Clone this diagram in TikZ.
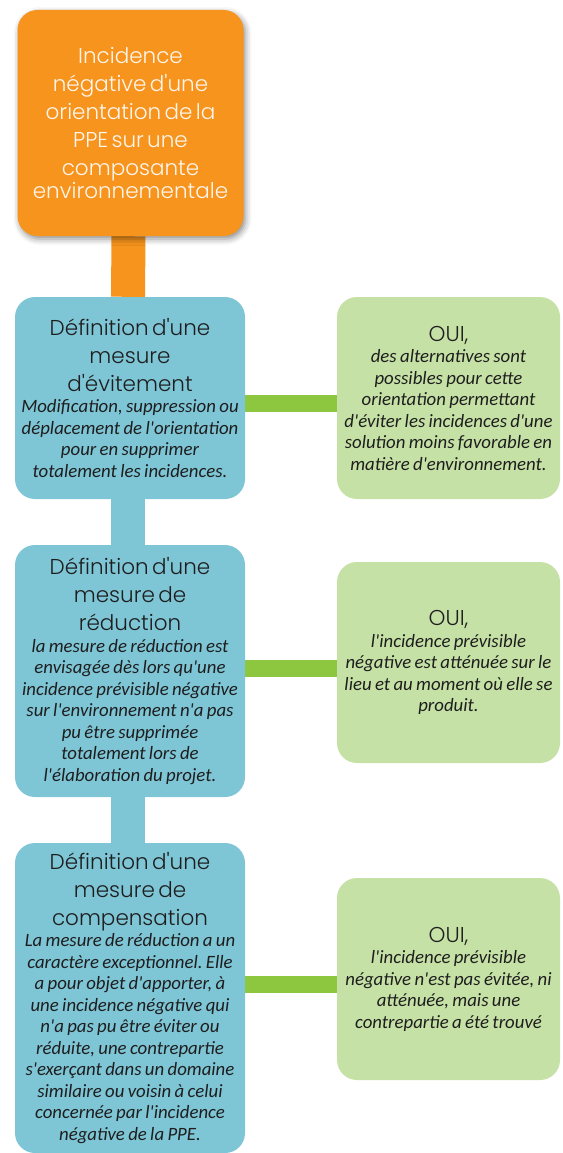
\documentclass[tikz,border=0pt]{standalone}
\usepackage{fontspec}
\usetikzlibrary{shadows.blur}
\newfontfamily\headfont{Poppins Light}
\newfontfamily\bodyfont{Carlito}
\definecolor{peche}{RGB}{247,148,29}
\definecolor{ciel}{RGB}{126,197,214}
\definecolor{pomme}{RGB}{198,225,166}
\definecolor{herbe}{RGB}{141,198,63}
\definecolor{encre}{RGB}{30,30,30}
\newcommand*{\bwd }{230pt}
\newcommand*{\gwd }{223pt}
\newcommand*{\twd }{34pt}
\newcommand*{\lwd }{17pt}
\newcommand*{\hsz }{\headfont\fontsize{21.5}{28}\selectfont}
\newcommand*{\isz }{\bodyfont\itshape\fontsize{18.8}{21.5}\selectfont}
\pgfdeclarelayer{background}
\pgfsetlayers{background,main}
\frenchspacing

\begin{document}
\begin{tikzpicture}[x=1pt,y=-1pt,
    box/.style    = {rounded corners=20pt, inner sep=0pt, align=center, text=encre},
    impact/.style = {box, fill=peche, text=white!92!peche, text width=\bwd-4pt, minimum height=226pt,
                     blur shadow={shadow xshift=2pt, shadow yshift=-3pt, shadow blur radius=6pt, shadow opacity=45}},
    mesure/.style = {box, fill=ciel, text width=\bwd},
    oui/.style    = {box, fill=pomme, text width=\gwd},
    tronc/.style  = {line width=\twd},
    lien/.style   = {line width=\lwd, herbe}]
    \useasboundingbox (0,0) rectangle (562,1153);

    \node [impact] (impact) at (130.5,123)
        {\hsz Incidence\\négative d'une\\orientation de la\\PPE sur une\\composante\\environnementale};

    \node [mesure, minimum height=202pt] (evite) at (130,398)
        {{\hsz Définition d'une\\mesure\\d'évitement\par}
         {\isz Modification, suppression ou\\déplacement de l'orientation\\pour en supprimer\\totalement les incidences.\par}};
    \node [mesure, minimum height=252pt] (reduit) at (130,671)
        {{\hsz Définition d'une\\mesure de\\réduction\par}
         {\isz la mesure de réduction est\\envisagée dès lors qu'une\\incidence prévisible négative\\sur l'environnement n'a pas\\pu être supprimée\\totalement lors de\\l'élaboration du projet.\par}};
    \node [mesure, minimum height=310pt] (compense) at (130,998)
        {{\hsz Définition d'une\\mesure de\\compensation\par}
         {\isz La mesure de réduction a un\\caractère exceptionnel. Elle\\a pour objet d'apporter, à\\une incidence négative qui\\n'a pas pu être éviter ou\\réduite, une contrepartie\\s'exerçant dans un domaine\\similaire ou voisin à celui\\concernée par l'incidence\\négative de la PPE.\par}};

    \node [oui, minimum height=202pt] (oui1) at (448.5,398)
        {{\hsz OUI,\par}
         {\isz des alternatives sont\\possibles pour cette\\orientation permettant\\d'éviter les incidences d'une\\solution moins favorable en\\matière d'environnement.\par}};
    \node [oui, minimum height=201pt] (oui2) at (448.5,662.5)
        {{\hsz OUI,\par}
         {\isz l'incidence prévisible\\négative est atténuée sur le\\lieu et au moment où elle se\\produit.\par}};
    \node [oui, minimum height=202pt] (oui3) at (448.5,979)
        {{\hsz OUI,\par}
         {\isz l'incidence prévisible\\négative n'est pas évitée, ni\\atténuée, mais une\\contrepartie a été trouvé\par}};

    % liaisons sous les cadres
    \begin{pgfonlayer}{background}
        \draw [tronc, peche] ([xshift=-2pt]impact.south) -- ([xshift=-2pt]evite.north);
        \draw [tronc, ciel] ([xshift=-2pt]evite.south) -- ([xshift=-2pt]reduit.north);
        \draw [tronc, ciel] ([xshift=-2pt]reduit.south) -- ([xshift=-2pt]compense.north);
        \draw [lien] ([yshift=-5pt]oui1.west) -- ([yshift=-5pt]oui1.west -| evite.east);
        \draw [lien] ([yshift=-6pt]oui2.west) -- ([yshift=-6pt]oui2.west -| reduit.east);
        \draw [lien] ([yshift=-5pt]oui3.west) -- ([yshift=-5pt]oui3.west -| compense.east);
    \end{pgfonlayer}
\end{tikzpicture}
\end{document}
